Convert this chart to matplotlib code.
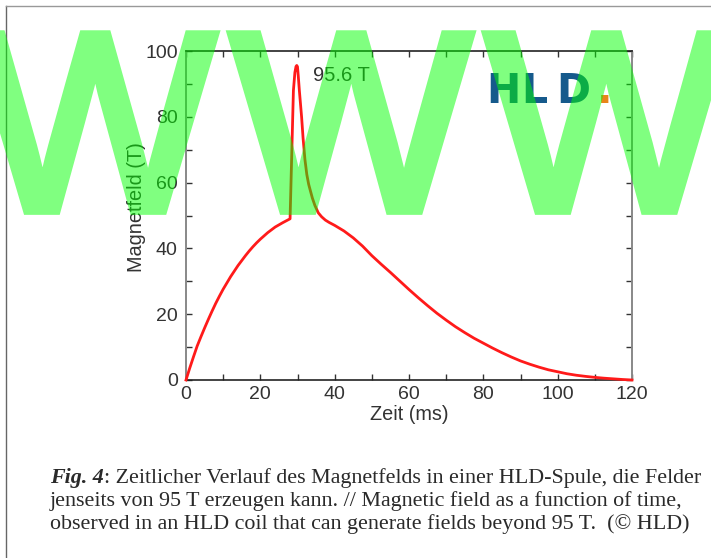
import matplotlib
matplotlib.use("Agg")
import matplotlib.pyplot as plt
import matplotlib.patheffects as pe
from matplotlib.lines import Line2D
from matplotlib.ticker import MultipleLocator

# ---- data ----
time_ms = [0, 1, 2, 3, 4, 5, 6, 7, 8, 9, 10, 11, 12, 13, 14, 15, 16, 17, 18, 19,
           20, 22, 24, 26, 27, 28.0,
           28.3, 28.6, 28.9, 29.3, 29.6, 29.8, 30.0, 30.2, 30.5, 30.8, 31.1, 31.5,
           32.0, 32.5, 33.0, 33.4, 34.0, 34.7, 35.6, 36.5, 37.5, 38.5,
           40, 42.5, 45, 47.5, 50, 52.5, 55, 57.5, 60, 62.5, 65, 67.5, 70, 72.5,
           75, 77.5, 80, 82.5, 85, 87.5, 90, 92.5, 95, 97.5, 100, 102.5, 105,
           107.5, 110, 112.5, 115, 117.5, 120]
field_T = [0, 3.6, 7.0, 10.3, 13.1, 15.8, 18.4, 20.9, 23.3, 25.5, 27.6, 29.5, 31.4,
           33.1, 34.8, 36.3, 37.8, 39.2, 40.5, 41.7,
           42.8, 44.8, 46.5, 47.8, 48.4, 49.0,
           62, 75, 88, 93.5, 95.3, 95.6, 95.2, 92.5, 88, 84, 80, 73.5,
           67, 62.5, 59.5, 57.8, 55.3, 53, 50.8, 49.6, 48.6, 47.9,
           47.0, 45.3, 43.2, 40.7, 37.8, 35.2, 32.7, 30.1, 27.5, 25.0, 22.6, 20.3,
           18.2, 16.2, 14.4, 12.7, 11.2, 9.7, 8.3, 7.0, 5.8, 4.8, 3.9, 3.1, 2.5,
           1.9, 1.45, 1.1, 0.8, 0.55, 0.35, 0.15, 0]
x_ticks = [0, 20, 40, 60, 80, 100, 120]
y_ticks = [0, 20, 40, 60, 80, 100]
peak_label = "95.6 T"
x_label = "Zeit (ms)"
y_label = "Magnetfeld (T)"
logo_letters = ["H", "L", "D"]
caption_bold = "Fig. 4"
caption_lines = [
    ": Zeitlicher Verlauf des Magnetfelds in einer HLD-Spule, die Felder",
    "jenseits von 95 T erzeugen kann. // Magnetic field as a function of time,",
    "observed in an HLD coil that can generate fields beyond 95 T.  (\u00a9 HLD)",
]
watermark = ["W", "W", "W"]

W, H = 711, 558
fig = plt.figure(figsize=(W / 100, H / 100), dpi=100)
fig.patch.set_facecolor("white")


def fx(px):
    return px / W


def fy(py):
    return 1 - py / H


# page frame lines
fig.add_artist(Line2D([fx(6), fx(6)], [fy(6), 0], transform=fig.transFigure,
                      color="#666666", lw=1.0))
fig.add_artist(Line2D([fx(6), 1], [fy(6), fy(6)], transform=fig.transFigure,
                      color="#999999", lw=1.0))

ax = fig.add_axes([fx(186), fy(380), fx(632) - fx(186), fy(51) - fy(380)])
ax.plot(time_ms, field_T, color="#ff1a1a", lw=2.0, clip_on=False, zorder=3,
        solid_joinstyle="round")
ax.set_xlim(0, 120)
ax.set_ylim(0, 100)
ax.set_xticks(x_ticks)
ax.set_yticks(y_ticks)
ax.xaxis.set_minor_locator(MultipleLocator(10))
ax.yaxis.set_minor_locator(MultipleLocator(10))
tick_font = dict(family="Liberation Sans", size=14)
ax.set_xticklabels([str(v) for v in x_ticks], **tick_font, color="#333333")
ax.set_yticklabels([str(v) for v in y_ticks], **tick_font, color="#333333")
ax.tick_params(which="both", direction="in", top=True, right=True,
               length=4, width=1.0, color="#333333")
ax.tick_params(axis="x", which="major", pad=4)
ax.tick_params(axis="y", which="major", pad=6)
for s in ["top", "bottom"]:
    ax.spines[s].set_color("#222222")
    ax.spines[s].set_linewidth(1.2)
for s in ["left", "right"]:
    ax.spines[s].set_color("#888888")
    ax.spines[s].set_linewidth(1.4)
ax.set_xlabel(x_label, family="Liberation Sans", size=14.3, color="#333333",
              labelpad=2)
ax.set_ylabel(y_label, family="Liberation Sans", size=14.3, color="#333333")
ax.yaxis.set_label_coords(-0.09, 0.526)

ax.text(34.2, 92.7, peak_label, family="Liberation Sans", size=14.5,
        color="#333333", ha="left", va="center")

# HLD logo
logo_x = [486, 521, 556]
for letter, lx in zip(logo_letters, logo_x):
    fig.text(fx(lx), fy(103), letter, family="DejaVu Sans", weight="bold",
             size=29.5, color="#165a8c", ha="left", va="baseline", zorder=2)
fig.text(fx(597), fy(103), ".", family="DejaVu Sans", weight="bold",
         size=29.5, color="#e8841a", ha="left", va="baseline", zorder=2)

# caption
cap_font = dict(family="Liberation Serif", size=15.8, color="#2a2a2a")
renderer = fig.canvas.get_renderer()
t0 = fig.text(fx(50), fy(483), caption_bold, style="italic", weight="bold",
              ha="left", va="baseline", **cap_font)
bb = t0.get_window_extent(renderer=renderer)
fig.text(bb.x1 / W, fy(483), caption_lines[0], ha="left", va="baseline", **cap_font)
fig.text(fx(50), fy(506), caption_lines[1], ha="left", va="baseline", **cap_font)
fig.text(fx(50), fy(529), caption_lines[2], ha="left", va="baseline", **cap_font)


# watermark: opaque green glyphs (thickened), then made half transparent as a whole
def half_alpha(img, dpi):
    out = img.copy()
    out[..., 3] *= 0.5
    return out, 0, 0


for ch, wx in zip(watermark, [95, 351, 606]):
    t = fig.text(fx(wx), fy(210), ch, family="Liberation Sans", size=183,
                 color=(0, 1, 0), ha="center", va="baseline", zorder=10,
                 path_effects=[pe.Stroke(linewidth=7, foreground=(0, 1, 0),
                                         joinstyle="miter"),
                               pe.Normal()])
    t.set_agg_filter(half_alpha)

fig.savefig("out.png", dpi=100, facecolor="white")
